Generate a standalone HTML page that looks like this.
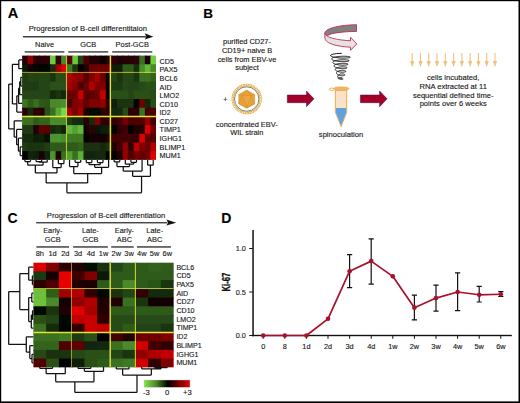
<!DOCTYPE html>
<html><head><meta charset="utf-8"><style>
html,body{margin:0;padding:0;background:#fff;width:520px;height:403px;overflow:hidden;}
svg text{font-family:"Liberation Sans", sans-serif;stroke:#151515;stroke-width:0.12px;}
svg text.nb{stroke:none;}
</style></head><body>
<svg width="520" height="403" viewBox="0 0 520 403" style="position:absolute;left:0;top:0">
<rect x="0" y="0" width="520" height="403" fill="#fff"/>
<rect x="22.1" y="55.6" width="6.58" height="9.69" fill="#2a0008"/>
<rect x="27.68" y="55.6" width="6.58" height="9.69" fill="#8a0000"/>
<rect x="33.26" y="55.6" width="6.58" height="9.69" fill="#2a0005"/>
<rect x="38.84" y="55.6" width="6.58" height="9.69" fill="#2a0005"/>
<rect x="44.42" y="55.6" width="6.58" height="9.69" fill="#300008"/>
<rect x="50" y="55.6" width="6.58" height="9.69" fill="#6ccc3c"/>
<rect x="55.58" y="55.6" width="6.58" height="9.69" fill="#300008"/>
<rect x="61.16" y="55.6" width="6.58" height="9.69" fill="#4a8a2a"/>
<rect x="66.74" y="55.6" width="6.58" height="9.69" fill="#5a0000"/>
<rect x="72.32" y="55.6" width="6.58" height="9.69" fill="#6cc83c"/>
<rect x="77.9" y="55.6" width="6.58" height="9.69" fill="#1e4014"/>
<rect x="83.48" y="55.6" width="6.58" height="9.69" fill="#4a0000"/>
<rect x="89.06" y="55.6" width="6.58" height="9.69" fill="#200005"/>
<rect x="94.64" y="55.6" width="6.58" height="9.69" fill="#200005"/>
<rect x="100.22" y="55.6" width="6.58" height="9.69" fill="#0a0000"/>
<rect x="105.8" y="55.6" width="6.58" height="9.69" fill="#2a0005"/>
<rect x="111.38" y="55.6" width="6.58" height="9.69" fill="#300008"/>
<rect x="116.96" y="55.6" width="6.58" height="9.69" fill="#200005"/>
<rect x="122.54" y="55.6" width="6.58" height="9.69" fill="#250005"/>
<rect x="128.12" y="55.6" width="6.58" height="9.69" fill="#250005"/>
<rect x="133.7" y="55.6" width="6.58" height="9.69" fill="#300008"/>
<rect x="139.28" y="55.6" width="6.58" height="9.69" fill="#3a7020"/>
<rect x="144.86" y="55.6" width="6.58" height="9.69" fill="#200005"/>
<rect x="150.44" y="55.6" width="5.58" height="9.69" fill="#70d040"/>
<rect x="22.1" y="64.29" width="6.58" height="9.69" fill="#0a1a08"/>
<rect x="27.68" y="64.29" width="6.58" height="9.69" fill="#150008"/>
<rect x="33.26" y="64.29" width="6.58" height="9.69" fill="#000800"/>
<rect x="38.84" y="64.29" width="6.58" height="9.69" fill="#000500"/>
<rect x="44.42" y="64.29" width="6.58" height="9.69" fill="#000500"/>
<rect x="50" y="64.29" width="6.58" height="9.69" fill="#142810"/>
<rect x="55.58" y="64.29" width="6.58" height="9.69" fill="#9a0000"/>
<rect x="61.16" y="64.29" width="6.58" height="9.69" fill="#d80000"/>
<rect x="66.74" y="64.29" width="6.58" height="9.69" fill="#3e7a22"/>
<rect x="72.32" y="64.29" width="6.58" height="9.69" fill="#1a3410"/>
<rect x="77.9" y="64.29" width="6.58" height="9.69" fill="#0a0000"/>
<rect x="83.48" y="64.29" width="6.58" height="9.69" fill="#250005"/>
<rect x="89.06" y="64.29" width="6.58" height="9.69" fill="#700000"/>
<rect x="94.64" y="64.29" width="6.58" height="9.69" fill="#700000"/>
<rect x="100.22" y="64.29" width="6.58" height="9.69" fill="#700000"/>
<rect x="105.8" y="64.29" width="6.58" height="9.69" fill="#700000"/>
<rect x="111.38" y="64.29" width="6.58" height="9.69" fill="#0e1e08"/>
<rect x="116.96" y="64.29" width="6.58" height="9.69" fill="#0e1e08"/>
<rect x="122.54" y="64.29" width="6.58" height="9.69" fill="#2e5a1a"/>
<rect x="128.12" y="64.29" width="6.58" height="9.69" fill="#2e5a1a"/>
<rect x="133.7" y="64.29" width="6.58" height="9.69" fill="#16300e"/>
<rect x="139.28" y="64.29" width="6.58" height="9.69" fill="#4a8a2a"/>
<rect x="144.86" y="64.29" width="6.58" height="9.69" fill="#62b83a"/>
<rect x="150.44" y="64.29" width="5.58" height="9.69" fill="#4a8a2a"/>
<rect x="22.1" y="72.98" width="6.58" height="9.69" fill="#1e3c12"/>
<rect x="27.68" y="72.98" width="6.58" height="9.69" fill="#244616"/>
<rect x="33.26" y="72.98" width="6.58" height="9.69" fill="#224214"/>
<rect x="38.84" y="72.98" width="6.58" height="9.69" fill="#244616"/>
<rect x="44.42" y="72.98" width="6.58" height="9.69" fill="#244616"/>
<rect x="50" y="72.98" width="6.58" height="9.69" fill="#1a3410"/>
<rect x="55.58" y="72.98" width="6.58" height="9.69" fill="#2a4e18"/>
<rect x="61.16" y="72.98" width="6.58" height="9.69" fill="#2a4e18"/>
<rect x="66.74" y="72.98" width="6.58" height="9.69" fill="#b00000"/>
<rect x="72.32" y="72.98" width="6.58" height="9.69" fill="#900000"/>
<rect x="77.9" y="72.98" width="6.58" height="9.69" fill="#900000"/>
<rect x="83.48" y="72.98" width="6.58" height="9.69" fill="#5a0000"/>
<rect x="89.06" y="72.98" width="6.58" height="9.69" fill="#800000"/>
<rect x="94.64" y="72.98" width="6.58" height="9.69" fill="#a80000"/>
<rect x="100.22" y="72.98" width="6.58" height="9.69" fill="#6a0000"/>
<rect x="105.8" y="72.98" width="6.58" height="9.69" fill="#0a0500"/>
<rect x="111.38" y="72.98" width="6.58" height="9.69" fill="#234416"/>
<rect x="116.96" y="72.98" width="6.58" height="9.69" fill="#1a340e"/>
<rect x="122.54" y="72.98" width="6.58" height="9.69" fill="#244616"/>
<rect x="128.12" y="72.98" width="6.58" height="9.69" fill="#244616"/>
<rect x="133.7" y="72.98" width="6.58" height="9.69" fill="#1a340e"/>
<rect x="139.28" y="72.98" width="6.58" height="9.69" fill="#3a7020"/>
<rect x="144.86" y="72.98" width="6.58" height="9.69" fill="#3a7020"/>
<rect x="150.44" y="72.98" width="5.58" height="9.69" fill="#34641c"/>
<rect x="22.1" y="81.67" width="6.58" height="9.69" fill="#1f3b13"/>
<rect x="27.68" y="81.67" width="6.58" height="9.69" fill="#1f3b13"/>
<rect x="33.26" y="81.67" width="6.58" height="9.69" fill="#1f3b13"/>
<rect x="38.84" y="81.67" width="6.58" height="9.69" fill="#244515"/>
<rect x="44.42" y="81.67" width="6.58" height="9.69" fill="#244515"/>
<rect x="50" y="81.67" width="6.58" height="9.69" fill="#2b5019"/>
<rect x="55.58" y="81.67" width="6.58" height="9.69" fill="#2b5019"/>
<rect x="61.16" y="81.67" width="6.58" height="9.69" fill="#2b5019"/>
<rect x="66.74" y="81.67" width="6.58" height="9.69" fill="#a00000"/>
<rect x="72.32" y="81.67" width="6.58" height="9.69" fill="#8a0000"/>
<rect x="77.9" y="81.67" width="6.58" height="9.69" fill="#4a0000"/>
<rect x="83.48" y="81.67" width="6.58" height="9.69" fill="#6a0000"/>
<rect x="89.06" y="81.67" width="6.58" height="9.69" fill="#b00000"/>
<rect x="94.64" y="81.67" width="6.58" height="9.69" fill="#800000"/>
<rect x="100.22" y="81.67" width="6.58" height="9.69" fill="#800000"/>
<rect x="105.8" y="81.67" width="6.58" height="9.69" fill="#080000"/>
<rect x="111.38" y="81.67" width="6.58" height="9.69" fill="#1e3a12"/>
<rect x="116.96" y="81.67" width="6.58" height="9.69" fill="#1e3a12"/>
<rect x="122.54" y="81.67" width="6.58" height="9.69" fill="#254816"/>
<rect x="128.12" y="81.67" width="6.58" height="9.69" fill="#234416"/>
<rect x="133.7" y="81.67" width="6.58" height="9.69" fill="#234416"/>
<rect x="139.28" y="81.67" width="6.58" height="9.69" fill="#264a18"/>
<rect x="144.86" y="81.67" width="6.58" height="9.69" fill="#2a5018"/>
<rect x="150.44" y="81.67" width="5.58" height="9.69" fill="#2a5018"/>
<rect x="22.1" y="90.36" width="6.58" height="9.69" fill="#244616"/>
<rect x="27.68" y="90.36" width="6.58" height="9.69" fill="#244616"/>
<rect x="33.26" y="90.36" width="6.58" height="9.69" fill="#244616"/>
<rect x="38.84" y="90.36" width="6.58" height="9.69" fill="#244616"/>
<rect x="44.42" y="90.36" width="6.58" height="9.69" fill="#244616"/>
<rect x="50" y="90.36" width="6.58" height="9.69" fill="#142a0c"/>
<rect x="55.58" y="90.36" width="6.58" height="9.69" fill="#1a320e"/>
<rect x="61.16" y="90.36" width="6.58" height="9.69" fill="#14280a"/>
<rect x="66.74" y="90.36" width="6.58" height="9.69" fill="#6a0000"/>
<rect x="72.32" y="90.36" width="6.58" height="9.69" fill="#6a0000"/>
<rect x="77.9" y="90.36" width="6.58" height="9.69" fill="#c80000"/>
<rect x="83.48" y="90.36" width="6.58" height="9.69" fill="#5a0000"/>
<rect x="89.06" y="90.36" width="6.58" height="9.69" fill="#5a0000"/>
<rect x="94.64" y="90.36" width="6.58" height="9.69" fill="#700000"/>
<rect x="100.22" y="90.36" width="6.58" height="9.69" fill="#c80000"/>
<rect x="105.8" y="90.36" width="6.58" height="9.69" fill="#000000"/>
<rect x="111.38" y="90.36" width="6.58" height="9.69" fill="#2a5018"/>
<rect x="116.96" y="90.36" width="6.58" height="9.69" fill="#2a5018"/>
<rect x="122.54" y="90.36" width="6.58" height="9.69" fill="#2a5018"/>
<rect x="128.12" y="90.36" width="6.58" height="9.69" fill="#244616"/>
<rect x="133.7" y="90.36" width="6.58" height="9.69" fill="#2a5018"/>
<rect x="139.28" y="90.36" width="6.58" height="9.69" fill="#2a5018"/>
<rect x="144.86" y="90.36" width="6.58" height="9.69" fill="#2a5018"/>
<rect x="150.44" y="90.36" width="5.58" height="9.69" fill="#264a18"/>
<rect x="22.1" y="99.05" width="6.58" height="9.69" fill="#3c7222"/>
<rect x="27.68" y="99.05" width="6.58" height="9.69" fill="#2e5a1a"/>
<rect x="33.26" y="99.05" width="6.58" height="9.69" fill="#386c20"/>
<rect x="38.84" y="99.05" width="6.58" height="9.69" fill="#2e5818"/>
<rect x="44.42" y="99.05" width="6.58" height="9.69" fill="#2c5418"/>
<rect x="50" y="99.05" width="6.58" height="9.69" fill="#4a8a28"/>
<rect x="55.58" y="99.05" width="6.58" height="9.69" fill="#4a8a28"/>
<rect x="61.16" y="99.05" width="6.58" height="9.69" fill="#4e9030"/>
<rect x="66.74" y="99.05" width="6.58" height="9.69" fill="#4a0000"/>
<rect x="72.32" y="99.05" width="6.58" height="9.69" fill="#800000"/>
<rect x="77.9" y="99.05" width="6.58" height="9.69" fill="#900000"/>
<rect x="83.48" y="99.05" width="6.58" height="9.69" fill="#600000"/>
<rect x="89.06" y="99.05" width="6.58" height="9.69" fill="#800000"/>
<rect x="94.64" y="99.05" width="6.58" height="9.69" fill="#800000"/>
<rect x="100.22" y="99.05" width="6.58" height="9.69" fill="#900000"/>
<rect x="105.8" y="99.05" width="6.58" height="9.69" fill="#300000"/>
<rect x="111.38" y="99.05" width="6.58" height="9.69" fill="#0e1e08"/>
<rect x="116.96" y="99.05" width="6.58" height="9.69" fill="#1a340e"/>
<rect x="122.54" y="99.05" width="6.58" height="9.69" fill="#1a340e"/>
<rect x="128.12" y="99.05" width="6.58" height="9.69" fill="#1a340e"/>
<rect x="133.7" y="99.05" width="6.58" height="9.69" fill="#000000"/>
<rect x="139.28" y="99.05" width="6.58" height="9.69" fill="#700000"/>
<rect x="144.86" y="99.05" width="6.58" height="9.69" fill="#10280a"/>
<rect x="150.44" y="99.05" width="5.58" height="9.69" fill="#2a5018"/>
<rect x="22.1" y="107.74" width="6.58" height="9.69" fill="#2a0008"/>
<rect x="27.68" y="107.74" width="6.58" height="9.69" fill="#142a0c"/>
<rect x="33.26" y="107.74" width="6.58" height="9.69" fill="#300008"/>
<rect x="38.84" y="107.74" width="6.58" height="9.69" fill="#200005"/>
<rect x="44.42" y="107.74" width="6.58" height="9.69" fill="#2a5018"/>
<rect x="50" y="107.74" width="6.58" height="9.69" fill="#3a7020"/>
<rect x="55.58" y="107.74" width="6.58" height="9.69" fill="#5aaa38"/>
<rect x="61.16" y="107.74" width="6.58" height="9.69" fill="#78d848"/>
<rect x="66.74" y="107.74" width="6.58" height="9.69" fill="#a00000"/>
<rect x="72.32" y="107.74" width="6.58" height="9.69" fill="#800000"/>
<rect x="77.9" y="107.74" width="6.58" height="9.69" fill="#a00000"/>
<rect x="83.48" y="107.74" width="6.58" height="9.69" fill="#1a0000"/>
<rect x="89.06" y="107.74" width="6.58" height="9.69" fill="#000800"/>
<rect x="94.64" y="107.74" width="6.58" height="9.69" fill="#000800"/>
<rect x="100.22" y="107.74" width="6.58" height="9.69" fill="#300000"/>
<rect x="105.8" y="107.74" width="6.58" height="9.69" fill="#200000"/>
<rect x="111.38" y="107.74" width="6.58" height="9.69" fill="#122810"/>
<rect x="116.96" y="107.74" width="6.58" height="9.69" fill="#122810"/>
<rect x="122.54" y="107.74" width="6.58" height="9.69" fill="#264a18"/>
<rect x="128.12" y="107.74" width="6.58" height="9.69" fill="#2a0005"/>
<rect x="133.7" y="107.74" width="6.58" height="9.69" fill="#2a0005"/>
<rect x="139.28" y="107.74" width="6.58" height="9.69" fill="#3a7020"/>
<rect x="144.86" y="107.74" width="6.58" height="9.69" fill="#400005"/>
<rect x="150.44" y="107.74" width="5.58" height="9.69" fill="#500000"/>
<rect x="22.1" y="116.43" width="6.58" height="9.69" fill="#3a7020"/>
<rect x="27.68" y="116.43" width="6.58" height="9.69" fill="#3a7020"/>
<rect x="33.26" y="116.43" width="6.58" height="9.69" fill="#2e5a1a"/>
<rect x="38.84" y="116.43" width="6.58" height="9.69" fill="#34641c"/>
<rect x="44.42" y="116.43" width="6.58" height="9.69" fill="#34641c"/>
<rect x="50" y="116.43" width="6.58" height="9.69" fill="#4a8a2a"/>
<rect x="55.58" y="116.43" width="6.58" height="9.69" fill="#4a8a2a"/>
<rect x="61.16" y="116.43" width="6.58" height="9.69" fill="#4a8a2a"/>
<rect x="66.74" y="116.43" width="6.58" height="9.69" fill="#1e3a12"/>
<rect x="72.32" y="116.43" width="6.58" height="9.69" fill="#142a0c"/>
<rect x="77.9" y="116.43" width="6.58" height="9.69" fill="#142a0c"/>
<rect x="83.48" y="116.43" width="6.58" height="9.69" fill="#2a0005"/>
<rect x="89.06" y="116.43" width="6.58" height="9.69" fill="#142a0c"/>
<rect x="94.64" y="116.43" width="6.58" height="9.69" fill="#800000"/>
<rect x="100.22" y="116.43" width="6.58" height="9.69" fill="#300005"/>
<rect x="105.8" y="116.43" width="6.58" height="9.69" fill="#300005"/>
<rect x="111.38" y="116.43" width="6.58" height="9.69" fill="#300005"/>
<rect x="116.96" y="116.43" width="6.58" height="9.69" fill="#400005"/>
<rect x="122.54" y="116.43" width="6.58" height="9.69" fill="#700000"/>
<rect x="128.12" y="116.43" width="6.58" height="9.69" fill="#4a0000"/>
<rect x="133.7" y="116.43" width="6.58" height="9.69" fill="#500000"/>
<rect x="139.28" y="116.43" width="6.58" height="9.69" fill="#500000"/>
<rect x="144.86" y="116.43" width="6.58" height="9.69" fill="#900000"/>
<rect x="150.44" y="116.43" width="5.58" height="9.69" fill="#400005"/>
<rect x="22.1" y="125.12" width="6.58" height="9.69" fill="#1e3a12"/>
<rect x="27.68" y="125.12" width="6.58" height="9.69" fill="#1e3a12"/>
<rect x="33.26" y="125.12" width="6.58" height="9.69" fill="#200005"/>
<rect x="38.84" y="125.12" width="6.58" height="9.69" fill="#600000"/>
<rect x="44.42" y="125.12" width="6.58" height="9.69" fill="#5a0000"/>
<rect x="50" y="125.12" width="6.58" height="9.69" fill="#14280c"/>
<rect x="55.58" y="125.12" width="6.58" height="9.69" fill="#18300e"/>
<rect x="61.16" y="125.12" width="6.58" height="9.69" fill="#10200a"/>
<rect x="66.74" y="125.12" width="6.58" height="9.69" fill="#62b83a"/>
<rect x="72.32" y="125.12" width="6.58" height="9.69" fill="#52a030"/>
<rect x="77.9" y="125.12" width="6.58" height="9.69" fill="#62b83a"/>
<rect x="83.48" y="125.12" width="6.58" height="9.69" fill="#100000"/>
<rect x="89.06" y="125.12" width="6.58" height="9.69" fill="#300005"/>
<rect x="94.64" y="125.12" width="6.58" height="9.69" fill="#081408"/>
<rect x="100.22" y="125.12" width="6.58" height="9.69" fill="#0e1e08"/>
<rect x="105.8" y="125.12" width="6.58" height="9.69" fill="#10200a"/>
<rect x="111.38" y="125.12" width="6.58" height="9.69" fill="#000500"/>
<rect x="116.96" y="125.12" width="6.58" height="9.69" fill="#300005"/>
<rect x="122.54" y="125.12" width="6.58" height="9.69" fill="#400005"/>
<rect x="128.12" y="125.12" width="6.58" height="9.69" fill="#000000"/>
<rect x="133.7" y="125.12" width="6.58" height="9.69" fill="#200000"/>
<rect x="139.28" y="125.12" width="6.58" height="9.69" fill="#200000"/>
<rect x="144.86" y="125.12" width="6.58" height="9.69" fill="#e00000"/>
<rect x="150.44" y="125.12" width="5.58" height="9.69" fill="#700000"/>
<rect x="22.1" y="133.81" width="6.58" height="9.69" fill="#142a0c"/>
<rect x="27.68" y="133.81" width="6.58" height="9.69" fill="#142a0c"/>
<rect x="33.26" y="133.81" width="6.58" height="9.69" fill="#0c1e08"/>
<rect x="38.84" y="133.81" width="6.58" height="9.69" fill="#0e2008"/>
<rect x="44.42" y="133.81" width="6.58" height="9.69" fill="#061004"/>
<rect x="50" y="133.81" width="6.58" height="9.69" fill="#4e9230"/>
<rect x="55.58" y="133.81" width="6.58" height="9.69" fill="#4e9230"/>
<rect x="61.16" y="133.81" width="6.58" height="9.69" fill="#4a8a2a"/>
<rect x="66.74" y="133.81" width="6.58" height="9.69" fill="#3e7a22"/>
<rect x="72.32" y="133.81" width="6.58" height="9.69" fill="#3e7a22"/>
<rect x="77.9" y="133.81" width="6.58" height="9.69" fill="#3e7a22"/>
<rect x="83.48" y="133.81" width="6.58" height="9.69" fill="#050000"/>
<rect x="89.06" y="133.81" width="6.58" height="9.69" fill="#150005"/>
<rect x="94.64" y="133.81" width="6.58" height="9.69" fill="#150005"/>
<rect x="100.22" y="133.81" width="6.58" height="9.69" fill="#100000"/>
<rect x="105.8" y="133.81" width="6.58" height="9.69" fill="#250005"/>
<rect x="111.38" y="133.81" width="6.58" height="9.69" fill="#400005"/>
<rect x="116.96" y="133.81" width="6.58" height="9.69" fill="#400005"/>
<rect x="122.54" y="133.81" width="6.58" height="9.69" fill="#400005"/>
<rect x="128.12" y="133.81" width="6.58" height="9.69" fill="#400005"/>
<rect x="133.7" y="133.81" width="6.58" height="9.69" fill="#300005"/>
<rect x="139.28" y="133.81" width="6.58" height="9.69" fill="#e00000"/>
<rect x="144.86" y="133.81" width="6.58" height="9.69" fill="#600000"/>
<rect x="150.44" y="133.81" width="5.58" height="9.69" fill="#500000"/>
<rect x="22.1" y="142.5" width="6.58" height="9.69" fill="#1e3a12"/>
<rect x="27.68" y="142.5" width="6.58" height="9.69" fill="#1a340e"/>
<rect x="33.26" y="142.5" width="6.58" height="9.69" fill="#1a340e"/>
<rect x="38.84" y="142.5" width="6.58" height="9.69" fill="#1a340e"/>
<rect x="44.42" y="142.5" width="6.58" height="9.69" fill="#203e12"/>
<rect x="50" y="142.5" width="6.58" height="9.69" fill="#2e5a1a"/>
<rect x="55.58" y="142.5" width="6.58" height="9.69" fill="#2e5a1a"/>
<rect x="61.16" y="142.5" width="6.58" height="9.69" fill="#2e5a1a"/>
<rect x="66.74" y="142.5" width="6.58" height="9.69" fill="#2e5a1a"/>
<rect x="72.32" y="142.5" width="6.58" height="9.69" fill="#2e5a1a"/>
<rect x="77.9" y="142.5" width="6.58" height="9.69" fill="#34641c"/>
<rect x="83.48" y="142.5" width="6.58" height="9.69" fill="#1a300e"/>
<rect x="89.06" y="142.5" width="6.58" height="9.69" fill="#1a300e"/>
<rect x="94.64" y="142.5" width="6.58" height="9.69" fill="#1a320e"/>
<rect x="100.22" y="142.5" width="6.58" height="9.69" fill="#14280c"/>
<rect x="105.8" y="142.5" width="6.58" height="9.69" fill="#1a320e"/>
<rect x="111.38" y="142.5" width="6.58" height="9.69" fill="#200000"/>
<rect x="116.96" y="142.5" width="6.58" height="9.69" fill="#400005"/>
<rect x="122.54" y="142.5" width="6.58" height="9.69" fill="#900000"/>
<rect x="128.12" y="142.5" width="6.58" height="9.69" fill="#300005"/>
<rect x="133.7" y="142.5" width="6.58" height="9.69" fill="#c00000"/>
<rect x="139.28" y="142.5" width="6.58" height="9.69" fill="#800000"/>
<rect x="144.86" y="142.5" width="6.58" height="9.69" fill="#700000"/>
<rect x="150.44" y="142.5" width="5.58" height="9.69" fill="#b00000"/>
<rect x="22.1" y="151.19" width="6.58" height="8.69" fill="#000000"/>
<rect x="27.68" y="151.19" width="6.58" height="8.69" fill="#122410"/>
<rect x="33.26" y="151.19" width="6.58" height="8.69" fill="#0e200a"/>
<rect x="38.84" y="151.19" width="6.58" height="8.69" fill="#180005"/>
<rect x="44.42" y="151.19" width="6.58" height="8.69" fill="#122410"/>
<rect x="50" y="151.19" width="6.58" height="8.69" fill="#4e9230"/>
<rect x="55.58" y="151.19" width="6.58" height="8.69" fill="#200005"/>
<rect x="61.16" y="151.19" width="6.58" height="8.69" fill="#3a7020"/>
<rect x="66.74" y="151.19" width="6.58" height="8.69" fill="#52a030"/>
<rect x="72.32" y="151.19" width="6.58" height="8.69" fill="#3a7020"/>
<rect x="77.9" y="151.19" width="6.58" height="8.69" fill="#5ab038"/>
<rect x="83.48" y="151.19" width="6.58" height="8.69" fill="#122410"/>
<rect x="89.06" y="151.19" width="6.58" height="8.69" fill="#122410"/>
<rect x="94.64" y="151.19" width="6.58" height="8.69" fill="#142810"/>
<rect x="100.22" y="151.19" width="6.58" height="8.69" fill="#142810"/>
<rect x="105.8" y="151.19" width="6.58" height="8.69" fill="#000000"/>
<rect x="111.38" y="151.19" width="6.58" height="8.69" fill="#000000"/>
<rect x="116.96" y="151.19" width="6.58" height="8.69" fill="#200000"/>
<rect x="122.54" y="151.19" width="6.58" height="8.69" fill="#900000"/>
<rect x="128.12" y="151.19" width="6.58" height="8.69" fill="#500000"/>
<rect x="133.7" y="151.19" width="6.58" height="8.69" fill="#700000"/>
<rect x="139.28" y="151.19" width="6.58" height="8.69" fill="#600000"/>
<rect x="144.86" y="151.19" width="6.58" height="8.69" fill="#700000"/>
<rect x="150.44" y="151.19" width="5.58" height="8.69" fill="#e00000"/>
<rect x="65.95" y="55.6" width="1.1" height="104.28" fill="#e4e43a" opacity="0.75"/>
<rect x="109.65" y="55.6" width="1.5" height="104.28" fill="#e4e43a" opacity="1"/>
<rect x="22.1" y="71.9" width="133.92" height="1" fill="#e4e43a" opacity="0.7"/>
<rect x="22.1" y="115.75" width="133.92" height="1.5" fill="#e4e43a" opacity="1"/>
<text x="159.6" y="63.8" font-size="7.2" fill="#151515">CD5</text>
<text x="159.6" y="72.38" font-size="7.2" fill="#151515">PAX5</text>
<text x="159.6" y="80.97" font-size="7.2" fill="#151515">BCL6</text>
<text x="159.6" y="89.56" font-size="7.2" fill="#151515">AID</text>
<text x="159.6" y="98.14" font-size="7.2" fill="#151515">LMO2</text>
<text x="159.6" y="106.72" font-size="7.2" fill="#151515">CD10</text>
<text x="159.6" y="115.31" font-size="7.2" fill="#151515">ID2</text>
<text x="159.6" y="123.9" font-size="7.2" fill="#151515">CD27</text>
<text x="159.6" y="132.48" font-size="7.2" fill="#151515">TIMP1</text>
<text x="159.6" y="141.06" font-size="7.2" fill="#151515">IGHG1</text>
<text x="159.6" y="149.65" font-size="7.2" fill="#151515">BLIMP1</text>
<text x="159.6" y="158.24" font-size="7.2" fill="#151515">MUM1</text>
<path d="M22.1 59.95L18.8 59.95M22.1 68.64L18.8 68.64M18.8 59.95L18.8 68.64M22.1 77.33L20.8 77.33M22.1 86.02L20.8 86.02M20.8 77.33L20.8 86.02M20.8 81.67L19.7 81.67M22.1 94.7L19.7 94.7M19.7 81.67L19.7 94.7M19.7 88.19L18.6 88.19M22.1 103.39L18.6 103.39M18.6 88.19L18.6 103.39M18.6 95.79L16.8 95.79M22.1 112.09L16.8 112.09M16.8 95.79L16.8 112.09M18.8 64.29L12.4 64.29M16.8 103.94L12.4 103.94M12.4 64.29L12.4 103.94M22.1 146.84L20.2 146.84M22.1 155.53L20.2 155.53M20.2 146.84L20.2 155.53M22.1 138.16L18.4 138.16M20.2 151.19L18.4 151.19M18.4 138.16L18.4 151.19M22.1 129.47L16.6 129.47M18.4 144.67L16.6 144.67M16.6 129.47L16.6 144.67M22.1 120.78L14.2 120.78M16.6 137.07L14.2 137.07M14.2 120.78L14.2 137.07M12.4 84.11L8.7 84.11M14.2 128.92L8.7 128.92M8.7 84.11L8.7 128.92" fill="none" stroke="#111" stroke-width="1.25"/>
<path d="M24.89 160L24.89 161.6M30.47 160L30.47 161.6M24.89 161.6L30.47 161.6M36.05 160L36.05 161.6M41.63 160L41.63 161.6M36.05 161.6L41.63 161.6M38.84 161.6L38.84 162.2M47.21 160L47.21 162.2M38.84 162.2L47.21 162.2M27.68 161.6L27.68 165.2M43.03 162.2L43.03 165.2M27.68 165.2L43.03 165.2M58.37 160L58.37 163.7M63.95 160L63.95 163.7M58.37 163.7L63.95 163.7M52.79 160L52.79 167.6M61.16 163.7L61.16 167.6M52.79 167.6L61.16 167.6M35.35 165.2L35.35 172.9M56.98 167.6L56.98 172.9M35.35 172.9L56.98 172.9M75.11 160L75.11 162.3M80.69 160L80.69 162.3M75.11 162.3L80.69 162.3M69.53 160L69.53 166.6M77.9 162.3L77.9 166.6M69.53 166.6L77.9 166.6M86.27 160L86.27 162.5M91.85 160L91.85 162.5M86.27 162.5L91.85 162.5M97.43 160L97.43 162.5M103.01 160L103.01 162.5M97.43 162.5L103.01 162.5M89.06 162.5L89.06 164.7M100.22 162.5L100.22 164.7M89.06 164.7L100.22 164.7M94.64 164.7L94.64 167.3M108.59 160L108.59 167.3M94.64 167.3L108.59 167.3M73.72 166.6L73.72 173.6M101.62 167.3L101.62 173.6M73.72 173.6L101.62 173.6M114.17 160L114.17 161.8M119.75 160L119.75 161.8M114.17 161.8L119.75 161.8M130.91 160L130.91 162.3M136.49 160L136.49 162.3M130.91 162.3L136.49 162.3M125.33 160L125.33 164.2M133.7 162.3L133.7 164.2M125.33 164.2L133.7 164.2M116.96 161.8L116.96 166.6M129.51 164.2L129.51 166.6M116.96 166.6L129.51 166.6M123.24 166.6L123.24 171M142.07 160L142.07 171M123.24 171L142.07 171M147.65 160L147.65 165.2M153.23 160L153.23 165.2M147.65 165.2L153.23 165.2M132.65 171L132.65 176.3M150.44 165.2L150.44 176.3M132.65 176.3L150.44 176.3M46.16 172.9L46.16 182.9M87.67 173.6L87.67 182.9M46.16 182.9L87.67 182.9M66.91 182.9L66.91 192.8M141.55 176.3L141.55 192.8M66.91 192.8L141.55 192.8" fill="none" stroke="#111" stroke-width="1.25"/>
<text x="28.7" y="31.4" font-size="7.65" fill="#151515">Progression of B-cell differentitaion</text>
<rect x="23" y="36.2" width="123" height="1.2" fill="#111"/>
<path d="M144.8 33.2L153.3 36.8L144.8 39.6L146.3 36.8Z" fill="#111"/>
<rect x="24.7" y="51.1" width="39.7" height="1.6" fill="#555"/>
<text x="44.55" y="46.5" font-size="7.4" fill="#151515" text-anchor="middle">Naive</text>
<rect x="68.2" y="51.1" width="40" height="1.6" fill="#555"/>
<text x="88.2" y="46.5" font-size="7.4" fill="#151515" text-anchor="middle">GCB</text>
<rect x="112.2" y="51.1" width="40.1" height="1.6" fill="#555"/>
<text x="132.25" y="46.5" font-size="7.4" fill="#151515" text-anchor="middle">Post-GCB</text>
<text x="7.8" y="17.9" font-size="14.6" font-weight="bold" fill="#000">A</text>
<rect x="33.4" y="262.7" width="13.75" height="9.72" fill="#d80000"/>
<rect x="46.15" y="262.7" width="13.75" height="9.72" fill="#800000"/>
<rect x="58.9" y="262.7" width="13.75" height="9.72" fill="#2a0000"/>
<rect x="71.65" y="262.7" width="13.75" height="9.72" fill="#200000"/>
<rect x="84.4" y="262.7" width="13.75" height="9.72" fill="#001000"/>
<rect x="97.15" y="262.7" width="13.75" height="9.72" fill="#1a3010"/>
<rect x="109.9" y="262.7" width="13.75" height="9.72" fill="#23461a"/>
<rect x="122.65" y="262.7" width="13.75" height="9.72" fill="#2e5a1a"/>
<rect x="135.4" y="262.7" width="13.75" height="9.72" fill="#2e5a1a"/>
<rect x="148.15" y="262.7" width="13.75" height="9.72" fill="#34621c"/>
<rect x="160.9" y="262.7" width="12.75" height="9.72" fill="#305e1a"/>
<rect x="33.4" y="271.42" width="13.75" height="9.72" fill="#1a3a10"/>
<rect x="46.15" y="271.42" width="13.75" height="9.72" fill="#150000"/>
<rect x="58.9" y="271.42" width="13.75" height="9.72" fill="#e80000"/>
<rect x="71.65" y="271.42" width="13.75" height="9.72" fill="#400000"/>
<rect x="84.4" y="271.42" width="13.75" height="9.72" fill="#800000"/>
<rect x="97.15" y="271.42" width="13.75" height="9.72" fill="#0a1808"/>
<rect x="109.9" y="271.42" width="13.75" height="9.72" fill="#2e5a1a"/>
<rect x="122.65" y="271.42" width="13.75" height="9.72" fill="#2e5a1a"/>
<rect x="135.4" y="271.42" width="13.75" height="9.72" fill="#2e5a1a"/>
<rect x="148.15" y="271.42" width="13.75" height="9.72" fill="#2e5a1a"/>
<rect x="160.9" y="271.42" width="12.75" height="9.72" fill="#2e5a1a"/>
<rect x="33.4" y="280.14" width="13.75" height="9.72" fill="#2a0000"/>
<rect x="46.15" y="280.14" width="13.75" height="9.72" fill="#500000"/>
<rect x="58.9" y="280.14" width="13.75" height="9.72" fill="#e80000"/>
<rect x="71.65" y="280.14" width="13.75" height="9.72" fill="#200000"/>
<rect x="84.4" y="280.14" width="13.75" height="9.72" fill="#1a0000"/>
<rect x="97.15" y="280.14" width="13.75" height="9.72" fill="#2e5a1a"/>
<rect x="109.9" y="280.14" width="13.75" height="9.72" fill="#2e5a1a"/>
<rect x="122.65" y="280.14" width="13.75" height="9.72" fill="#4a8a2a"/>
<rect x="135.4" y="280.14" width="13.75" height="9.72" fill="#2e5a1a"/>
<rect x="148.15" y="280.14" width="13.75" height="9.72" fill="#2a5418"/>
<rect x="160.9" y="280.14" width="12.75" height="9.72" fill="#1a340e"/>
<rect x="33.4" y="288.86" width="13.75" height="9.72" fill="#6cc03a"/>
<rect x="46.15" y="288.86" width="13.75" height="9.72" fill="#2e5e1a"/>
<rect x="58.9" y="288.86" width="13.75" height="9.72" fill="#a00000"/>
<rect x="71.65" y="288.86" width="13.75" height="9.72" fill="#b00000"/>
<rect x="84.4" y="288.86" width="13.75" height="9.72" fill="#300000"/>
<rect x="97.15" y="288.86" width="13.75" height="9.72" fill="#000800"/>
<rect x="109.9" y="288.86" width="13.75" height="9.72" fill="#1a340e"/>
<rect x="122.65" y="288.86" width="13.75" height="9.72" fill="#244616"/>
<rect x="135.4" y="288.86" width="13.75" height="9.72" fill="#300000"/>
<rect x="148.15" y="288.86" width="13.75" height="9.72" fill="#142a0c"/>
<rect x="160.9" y="288.86" width="12.75" height="9.72" fill="#142a0c"/>
<rect x="33.4" y="297.58" width="13.75" height="9.72" fill="#6cc03a"/>
<rect x="46.15" y="297.58" width="13.75" height="9.72" fill="#4a8a2a"/>
<rect x="58.9" y="297.58" width="13.75" height="9.72" fill="#150000"/>
<rect x="71.65" y="297.58" width="13.75" height="9.72" fill="#900000"/>
<rect x="84.4" y="297.58" width="13.75" height="9.72" fill="#b00000"/>
<rect x="97.15" y="297.58" width="13.75" height="9.72" fill="#200000"/>
<rect x="109.9" y="297.58" width="13.75" height="9.72" fill="#200000"/>
<rect x="122.65" y="297.58" width="13.75" height="9.72" fill="#3a7020"/>
<rect x="135.4" y="297.58" width="13.75" height="9.72" fill="#1a340e"/>
<rect x="148.15" y="297.58" width="13.75" height="9.72" fill="#100000"/>
<rect x="160.9" y="297.58" width="12.75" height="9.72" fill="#150000"/>
<rect x="33.4" y="306.3" width="13.75" height="9.72" fill="#000800"/>
<rect x="46.15" y="306.3" width="13.75" height="9.72" fill="#1a340e"/>
<rect x="58.9" y="306.3" width="13.75" height="9.72" fill="#200000"/>
<rect x="71.65" y="306.3" width="13.75" height="9.72" fill="#e00000"/>
<rect x="84.4" y="306.3" width="13.75" height="9.72" fill="#a80000"/>
<rect x="97.15" y="306.3" width="13.75" height="9.72" fill="#250000"/>
<rect x="109.9" y="306.3" width="13.75" height="9.72" fill="#2e5a1a"/>
<rect x="122.65" y="306.3" width="13.75" height="9.72" fill="#2e5a1a"/>
<rect x="135.4" y="306.3" width="13.75" height="9.72" fill="#2e5a1a"/>
<rect x="148.15" y="306.3" width="13.75" height="9.72" fill="#2e5a1a"/>
<rect x="160.9" y="306.3" width="12.75" height="9.72" fill="#2e5a1a"/>
<rect x="33.4" y="315.02" width="13.75" height="9.72" fill="#2a5018"/>
<rect x="46.15" y="315.02" width="13.75" height="9.72" fill="#234416"/>
<rect x="58.9" y="315.02" width="13.75" height="9.72" fill="#000800"/>
<rect x="71.65" y="315.02" width="13.75" height="9.72" fill="#c00000"/>
<rect x="84.4" y="315.02" width="13.75" height="9.72" fill="#c80000"/>
<rect x="97.15" y="315.02" width="13.75" height="9.72" fill="#300000"/>
<rect x="109.9" y="315.02" width="13.75" height="9.72" fill="#264a18"/>
<rect x="122.65" y="315.02" width="13.75" height="9.72" fill="#264a18"/>
<rect x="135.4" y="315.02" width="13.75" height="9.72" fill="#264a18"/>
<rect x="148.15" y="315.02" width="13.75" height="9.72" fill="#264a18"/>
<rect x="160.9" y="315.02" width="12.75" height="9.72" fill="#264a18"/>
<rect x="33.4" y="323.74" width="13.75" height="9.72" fill="#3a7020"/>
<rect x="46.15" y="323.74" width="13.75" height="9.72" fill="#142a0c"/>
<rect x="58.9" y="323.74" width="13.75" height="9.72" fill="#000500"/>
<rect x="71.65" y="323.74" width="13.75" height="9.72" fill="#300000"/>
<rect x="84.4" y="323.74" width="13.75" height="9.72" fill="#c80000"/>
<rect x="97.15" y="323.74" width="13.75" height="9.72" fill="#c00000"/>
<rect x="109.9" y="323.74" width="13.75" height="9.72" fill="#264a18"/>
<rect x="122.65" y="323.74" width="13.75" height="9.72" fill="#2e5a1a"/>
<rect x="135.4" y="323.74" width="13.75" height="9.72" fill="#234416"/>
<rect x="148.15" y="323.74" width="13.75" height="9.72" fill="#234416"/>
<rect x="160.9" y="323.74" width="12.75" height="9.72" fill="#1a340e"/>
<rect x="33.4" y="332.46" width="13.75" height="9.72" fill="#3a7020"/>
<rect x="46.15" y="332.46" width="13.75" height="9.72" fill="#3a7020"/>
<rect x="58.9" y="332.46" width="13.75" height="9.72" fill="#3e7a22"/>
<rect x="71.65" y="332.46" width="13.75" height="9.72" fill="#1e3a12"/>
<rect x="84.4" y="332.46" width="13.75" height="9.72" fill="#2a5018"/>
<rect x="97.15" y="332.46" width="13.75" height="9.72" fill="#000000"/>
<rect x="109.9" y="332.46" width="13.75" height="9.72" fill="#400000"/>
<rect x="122.65" y="332.46" width="13.75" height="9.72" fill="#200000"/>
<rect x="135.4" y="332.46" width="13.75" height="9.72" fill="#700000"/>
<rect x="148.15" y="332.46" width="13.75" height="9.72" fill="#700000"/>
<rect x="160.9" y="332.46" width="12.75" height="9.72" fill="#800000"/>
<rect x="33.4" y="341.18" width="13.75" height="9.72" fill="#34641c"/>
<rect x="46.15" y="341.18" width="13.75" height="9.72" fill="#34641c"/>
<rect x="58.9" y="341.18" width="13.75" height="9.72" fill="#500000"/>
<rect x="71.65" y="341.18" width="13.75" height="9.72" fill="#600000"/>
<rect x="84.4" y="341.18" width="13.75" height="9.72" fill="#122410"/>
<rect x="97.15" y="341.18" width="13.75" height="9.72" fill="#142810"/>
<rect x="109.9" y="341.18" width="13.75" height="9.72" fill="#3a7020"/>
<rect x="122.65" y="341.18" width="13.75" height="9.72" fill="#4a8a2a"/>
<rect x="135.4" y="341.18" width="13.75" height="9.72" fill="#d00000"/>
<rect x="148.15" y="341.18" width="13.75" height="9.72" fill="#400000"/>
<rect x="160.9" y="341.18" width="12.75" height="9.72" fill="#300000"/>
<rect x="33.4" y="349.9" width="13.75" height="9.72" fill="#254816"/>
<rect x="46.15" y="349.9" width="13.75" height="9.72" fill="#1a300e"/>
<rect x="58.9" y="349.9" width="13.75" height="9.72" fill="#1a320e"/>
<rect x="71.65" y="349.9" width="13.75" height="9.72" fill="#254816"/>
<rect x="84.4" y="349.9" width="13.75" height="9.72" fill="#2a5018"/>
<rect x="97.15" y="349.9" width="13.75" height="9.72" fill="#2a5018"/>
<rect x="109.9" y="349.9" width="13.75" height="9.72" fill="#234416"/>
<rect x="122.65" y="349.9" width="13.75" height="9.72" fill="#1a340e"/>
<rect x="135.4" y="349.9" width="13.75" height="9.72" fill="#900000"/>
<rect x="148.15" y="349.9" width="13.75" height="9.72" fill="#b00000"/>
<rect x="160.9" y="349.9" width="12.75" height="9.72" fill="#c00000"/>
<rect x="33.4" y="358.62" width="13.75" height="8.72" fill="#500000"/>
<rect x="46.15" y="358.62" width="13.75" height="8.72" fill="#2a5018"/>
<rect x="58.9" y="358.62" width="13.75" height="8.72" fill="#000000"/>
<rect x="71.65" y="358.62" width="13.75" height="8.72" fill="#0e1e08"/>
<rect x="84.4" y="358.62" width="13.75" height="8.72" fill="#2a5018"/>
<rect x="97.15" y="358.62" width="13.75" height="8.72" fill="#2e5a1a"/>
<rect x="109.9" y="358.62" width="13.75" height="8.72" fill="#3a7020"/>
<rect x="122.65" y="358.62" width="13.75" height="8.72" fill="#3e7a22"/>
<rect x="135.4" y="358.62" width="13.75" height="8.72" fill="#d00000"/>
<rect x="148.15" y="358.62" width="13.75" height="8.72" fill="#300000"/>
<rect x="160.9" y="358.62" width="12.75" height="8.72" fill="#800000"/>
<rect x="71" y="262.7" width="1" height="104.64" fill="#e4e43a" opacity="0.6"/>
<rect x="109.5" y="262.7" width="1.4" height="104.64" fill="#e4e43a" opacity="1"/>
<rect x="134.85" y="262.7" width="1.1" height="104.64" fill="#e4e43a" opacity="0.85"/>
<rect x="33.4" y="288" width="140.25" height="1" fill="#e4e43a" opacity="0.75"/>
<rect x="33.4" y="331.75" width="140.25" height="1.5" fill="#e4e43a" opacity="1"/>
<text x="176.4" y="269.7" font-size="7.1" fill="#151515">BCL6</text>
<text x="176.4" y="278.38" font-size="7.1" fill="#151515">CD5</text>
<text x="176.4" y="287.06" font-size="7.1" fill="#151515">PAX5</text>
<text x="176.4" y="295.74" font-size="7.1" fill="#151515">AID</text>
<text x="176.4" y="304.42" font-size="7.1" fill="#151515">CD27</text>
<text x="176.4" y="313.1" font-size="7.1" fill="#151515">CD10</text>
<text x="176.4" y="321.78" font-size="7.1" fill="#151515">LMO2</text>
<text x="176.4" y="330.46" font-size="7.1" fill="#151515">TIMP1</text>
<text x="176.4" y="339.14" font-size="7.1" fill="#151515">ID2</text>
<text x="176.4" y="347.82" font-size="7.1" fill="#151515">BLIMP1</text>
<text x="176.4" y="356.5" font-size="7.1" fill="#151515">IGHG1</text>
<text x="176.4" y="365.18" font-size="7.1" fill="#151515">MUM1</text>
<path d="M33.4 275.78L32.4 275.78M33.4 284.5L32.4 284.5M32.4 275.78L32.4 284.5M33.4 267.06L28.7 267.06M32.4 280.14L28.7 280.14M28.7 267.06L28.7 280.14M33.4 293.22L31.8 293.22M33.4 301.94L31.8 301.94M31.8 293.22L31.8 301.94M33.4 310.66L32.5 310.66M33.4 319.38L32.5 319.38M32.5 310.66L32.5 319.38M32.5 315.02L31.3 315.02M33.4 328.1L31.3 328.1M31.3 315.02L31.3 328.1M31.8 297.58L28.7 297.58M31.3 321.56L28.7 321.56M28.7 297.58L28.7 321.56M28.7 273.6L19.8 273.6M28.7 309.57L19.8 309.57M19.8 273.6L19.8 309.57M33.4 354.26L32 354.26M33.4 362.98L32 362.98M32 354.26L32 362.98M33.4 345.54L29.8 345.54M32 358.62L29.8 358.62M29.8 345.54L29.8 358.62M33.4 336.82L26.3 336.82M29.8 352.08L26.3 352.08M26.3 336.82L26.3 352.08M19.8 291.59L8.7 291.59M26.3 344.45L8.7 344.45M8.7 291.59L8.7 344.45" fill="none" stroke="#111" stroke-width="1.25"/>
<path d="M39.77 366.9L39.77 368.4M52.52 366.9L52.52 368.4M39.77 368.4L52.52 368.4M46.15 368.4L46.15 373.7M65.28 366.9L65.28 373.7M46.15 373.7L65.28 373.7M78.03 366.9L78.03 368.4M90.78 366.9L90.78 368.4M78.03 368.4L90.78 368.4M84.4 368.4L84.4 371.3M103.53 366.9L103.53 371.3M84.4 371.3L103.53 371.3M55.71 373.7L55.71 381.8M93.96 371.3L93.96 381.8M55.71 381.8L93.96 381.8M116.28 366.9L116.28 368.9M129.03 366.9L129.03 368.9M116.28 368.9L129.03 368.9M154.53 366.9L154.53 367.6M167.28 366.9L167.28 367.6M154.53 367.6L167.28 367.6M141.78 366.9L141.78 368.9M160.9 367.6L160.9 368.9M141.78 368.9L160.9 368.9M122.65 368.9L122.65 375.1M151.34 368.9L151.34 375.1M122.65 375.1L151.34 375.1M74.84 381.8L74.84 392.4M136.99 375.1L136.99 392.4M74.84 392.4L136.99 392.4" fill="none" stroke="#111" stroke-width="1.25"/>
<text x="46.8" y="218" font-size="7.65" fill="#151515">Progression of B-cell differentiation</text>
<rect x="36.2" y="222.1" width="131" height="1.3" fill="#333"/>
<path d="M166.4 219.6L176.2 222.75L166.4 225.6L168 222.75Z" fill="#111"/>
<rect x="36.4" y="246.2" width="32.6" height="1.5" fill="#444"/>
<text x="52.8" y="233" font-size="7.4" fill="#151515" text-anchor="middle">Early-</text>
<text x="52.8" y="241.7" font-size="7.4" fill="#151515" text-anchor="middle">GCB</text>
<rect x="73.1" y="246.2" width="34.8" height="1.5" fill="#444"/>
<text x="90.4" y="233" font-size="7.4" fill="#151515" text-anchor="middle">Late-</text>
<text x="90.4" y="241.7" font-size="7.4" fill="#151515" text-anchor="middle">GCB</text>
<rect x="111.2" y="246.2" width="22.5" height="1.5" fill="#444"/>
<text x="124.4" y="233" font-size="7.4" fill="#151515" text-anchor="middle">Early-</text>
<text x="124.4" y="241.7" font-size="7.4" fill="#151515" text-anchor="middle">ABC</text>
<rect x="136.9" y="246.2" width="34" height="1.5" fill="#444"/>
<text x="154.7" y="233" font-size="7.4" fill="#151515" text-anchor="middle">Late-</text>
<text x="154.7" y="241.7" font-size="7.4" fill="#151515" text-anchor="middle">ABC</text>
<text x="39.77" y="256.4" font-size="7.4" fill="#151515" text-anchor="middle">8h</text>
<text x="52.52" y="256.4" font-size="7.4" fill="#151515" text-anchor="middle">1d</text>
<text x="65.28" y="256.4" font-size="7.4" fill="#151515" text-anchor="middle">2d</text>
<text x="78.03" y="256.4" font-size="7.4" fill="#151515" text-anchor="middle">3d</text>
<text x="90.78" y="256.4" font-size="7.4" fill="#151515" text-anchor="middle">4d</text>
<text x="103.53" y="256.4" font-size="7.4" fill="#151515" text-anchor="middle">1w</text>
<text x="116.28" y="256.4" font-size="7.4" fill="#151515" text-anchor="middle">2w</text>
<text x="129.03" y="256.4" font-size="7.4" fill="#151515" text-anchor="middle">3w</text>
<text x="141.78" y="256.4" font-size="7.4" fill="#151515" text-anchor="middle">4w</text>
<text x="154.53" y="256.4" font-size="7.4" fill="#151515" text-anchor="middle">5w</text>
<text x="167.28" y="256.4" font-size="7.4" fill="#151515" text-anchor="middle">6w</text>
<text x="7.6" y="223.1" font-size="14" font-weight="bold" fill="#000">C</text>
<linearGradient id="cb" x1="0" x2="1" y1="0" y2="0"><stop offset="0" stop-color="#84e646"/><stop offset="0.25" stop-color="#4c8e2a"/><stop offset="0.52" stop-color="#000"/><stop offset="0.78" stop-color="#800000"/><stop offset="1" stop-color="#e40000"/></linearGradient>
<rect x="144" y="380" width="46" height="7.3" fill="url(#cb)" stroke="#ccc" stroke-width="0.4"/>
<text x="146.4" y="394.8" font-size="7.7" fill="#151515" text-anchor="middle">-3</text>
<text x="167.2" y="394.8" font-size="7.7" fill="#151515" text-anchor="middle">0</text>
<text x="187.5" y="394.8" font-size="7.7" fill="#151515" text-anchor="middle">+3</text>
<text x="203.3" y="18.2" font-size="13.5" font-weight="bold" fill="#000">B</text>
<text x="247" y="44.4" font-size="7.45" fill="#151515" text-anchor="middle">purified CD27-</text>
<text x="247" y="52.9" font-size="7.45" fill="#151515" text-anchor="middle">CD19+ naive B</text>
<text x="247" y="61.9" font-size="7.45" fill="#151515" text-anchor="middle">cells from EBV-ve</text>
<text x="247" y="70" font-size="7.45" fill="#151515" text-anchor="middle">subject</text>
<text x="246.8" y="126.5" font-size="7.45" fill="#151515" text-anchor="middle">concentrated EBV-</text>
<text x="246.8" y="135" font-size="7.45" fill="#151515" text-anchor="middle">WIL strain</text>
<text x="341" y="137.4" font-size="7.6" fill="#151515" text-anchor="middle">spinoculation</text>
<text x="453.2" y="79.6" font-size="7.6" fill="#151515" text-anchor="middle">cells incubated,</text>
<text x="453.2" y="88.7" font-size="7.6" fill="#151515" text-anchor="middle">RNA extracted at 11</text>
<text x="453.2" y="97.5" font-size="7.6" fill="#151515" text-anchor="middle">sequential defined time-</text>
<text x="453.2" y="106.2" font-size="7.6" fill="#151515" text-anchor="middle">points over 6 weeks</text>
<text x="225.3" y="102" font-size="7" fill="#333" text-anchor="middle">+</text>
<circle cx="246.7" cy="99" r="14.0" fill="none" stroke="#eca646" stroke-width="2.3"/>
<circle cx="246.7" cy="99" r="14.1" fill="none" stroke="#fffaf0" stroke-width="1.2" stroke-dasharray="0.9 0.8"/>
<circle cx="246.7" cy="99" r="12.2" fill="#fff" stroke="#356656" stroke-width="0.75"/>
<polygon points="246.7,90 238.73,94.6 238.73,103.8 246.7,108.4 254.67,103.8 254.67,94.6" fill="#e7a23a" stroke="#d9922c" stroke-width="0.5"/>
<polygon points="242.6,95.5 251.1,95.5 246.7,107.2" fill="#eaa944" stroke="#cf8a2a" stroke-width="0.45"/>
<path d="M246.7 90L242.6 95.5M246.7 90L251.1 95.5M238.73 94.6L242.6 95.5M254.67 94.6L251.1 95.5M238.73 103.8L242.6 95.5M254.67 103.8L251.1 95.5M238.73 103.8L246.7 107.2M254.67 103.8L246.7 107.2" stroke="#cf8a2a" stroke-width="0.45" fill="none"/>
<polygon points="287.3,95 306.5,95 306.5,91 314,98.8 306.5,106.7 306.5,102.7 287.3,102.7" fill="#a3002a" stroke="#3a1050" stroke-width="0.5"/>
<polygon points="360.4,95 379.6,95 379.6,91 387.1,98.8 379.6,106.7 379.6,102.7 360.4,102.7" fill="#a3002a" stroke="#3a1050" stroke-width="0.5"/>
<path d="M412.2 52.9V63" stroke="#f0c27a" stroke-width="1.1"/>
<path d="M410.1 61L412.2 67.3L414.3 61Z" fill="#f0c27a"/>
<path d="M420.48 52.9V63" stroke="#f0c27a" stroke-width="1.1"/>
<path d="M418.38 61L420.48 67.3L422.58 61Z" fill="#f0c27a"/>
<path d="M428.76 52.9V63" stroke="#f0c27a" stroke-width="1.1"/>
<path d="M426.66 61L428.76 67.3L430.86 61Z" fill="#f0c27a"/>
<path d="M437.04 52.9V63" stroke="#f0c27a" stroke-width="1.1"/>
<path d="M434.94 61L437.04 67.3L439.14 61Z" fill="#f0c27a"/>
<path d="M445.32 52.9V63" stroke="#f0c27a" stroke-width="1.1"/>
<path d="M443.22 61L445.32 67.3L447.42 61Z" fill="#f0c27a"/>
<path d="M453.6 52.9V63" stroke="#f0c27a" stroke-width="1.1"/>
<path d="M451.5 61L453.6 67.3L455.7 61Z" fill="#f0c27a"/>
<path d="M461.88 52.9V63" stroke="#f0c27a" stroke-width="1.1"/>
<path d="M459.78 61L461.88 67.3L463.98 61Z" fill="#f0c27a"/>
<path d="M470.16 52.9V63" stroke="#f0c27a" stroke-width="1.1"/>
<path d="M468.06 61L470.16 67.3L472.26 61Z" fill="#f0c27a"/>
<path d="M478.44 52.9V63" stroke="#f0c27a" stroke-width="1.1"/>
<path d="M476.34 61L478.44 67.3L480.54 61Z" fill="#f0c27a"/>
<path d="M486.72 52.9V63" stroke="#f0c27a" stroke-width="1.1"/>
<path d="M484.62 61L486.72 67.3L488.82 61Z" fill="#f0c27a"/>
<path d="M495 52.9V63" stroke="#f0c27a" stroke-width="1.1"/>
<path d="M492.9 61L495 67.3L497.1 61Z" fill="#f0c27a"/>
<path d="M335.4 90L346.7 90L346.7 112.4L341.1 126.6L335.4 112.4Z" fill="#f9e2c6" stroke="#e9a444" stroke-width="0.9" stroke-linejoin="round"/>
<path d="M335.9 107.9L346.2 107.9L346.2 112.4L341.1 125.6L335.9 112.4Z" fill="#5fa0de"/>
<path d="M333.7 88.6 C334 87.3 336 86.9 341 86.9 C346 86.9 348.7 87.3 348.9 88.4 C348.7 89.7 347 90.4 341 90.5 C336 90.4 334 89.8 333.7 88.6 Z" fill="#efb866" stroke="#e6a040" stroke-width="0.6"/>
<ellipse cx="331.8" cy="89.3" rx="2.6" ry="1.2" fill="#fff" stroke="#e6a040" stroke-width="0.8"/>
<path d="M341.8 53.3 C337 53.4 331 54 330.5 55.6 L330.4 55.4 330.47 55.63 330.64 55.85 330.92 56.07 331.29 56.29 331.75 56.5 332.3 56.7 332.93 56.9 333.64 57.08 334.41 57.25 335.24 57.4 336.13 57.54 337.06 57.67 338.02 57.78 339 57.87 339.99 57.94 340.99 58 341.98 58.04 342.95 58.07 343.9 58.08 344.81 58.07 345.67 58.04 346.48 58.01 347.22 57.95 347.9 57.89 348.5 57.81 349.02 57.73 349.46 57.63 349.8 57.53 350.05 57.42 350.2 57.31 350.25 57.19 350.21 57.08 350.07 56.97 349.84 56.86 349.52 56.75 349.1 56.65 348.61 56.56 348.03 56.48 347.38 56.41 346.67 56.35 345.9 56.3 345.08 56.27 344.21 56.26 343.32 56.26 342.4 56.27 341.47 56.31 340.53 56.36 339.6 56.42 338.68 56.51 337.78 56.61 336.92 56.73 336.1 56.86 335.33 57.01 334.61 57.17 333.96 57.34 333.38 57.53 332.87 57.73 332.45 57.93 332.11 58.15 331.86 58.37 331.69 58.59 331.62 58.82 331.64 59.04 331.75 59.27 331.95 59.5 332.24 59.71 332.61 59.93 333.06 60.13 333.58 60.33 334.18 60.52 334.84 60.69 335.55 60.86 336.31 61 337.12 61.14 337.95 61.25 338.81 61.36 339.69 61.44 340.57 61.51 341.45 61.56 342.31 61.59 343.16 61.61 343.98 61.61 344.76 61.59 345.5 61.56 346.18 61.51 346.81 61.45 347.37 61.38 347.87 61.3 348.29 61.21 348.63 61.11 348.88 61.01 349.06 60.9 349.15 60.78 349.15 60.67 349.07 60.55 348.91 60.44 348.66 60.33 348.33 60.23 347.93 60.14 347.46 60.05 346.92 59.97 346.32 59.91 345.66 59.86 344.96 59.82 344.22 59.79 343.45 59.79 342.65 59.79 341.84 59.82 341.02 59.86 340.2 59.92 339.39 59.99 338.59 60.09 337.82 60.2 337.09 60.32 336.39 60.46 335.74 60.62 335.14 60.79 334.61 60.97 334.13 61.16 333.73 61.36 333.39 61.57 333.14 61.79 332.96 62.01 332.86 62.24 332.84 62.46 332.9 62.69 333.03 62.92 333.25 63.14 333.54 63.35 333.9 63.56 334.33 63.77 334.82 63.96 335.36 64.14 335.96 64.31 336.61 64.46 337.29 64.6 338 64.73 338.74 64.84 339.5 64.93 340.26 65.01 341.03 65.07 341.79 65.11 342.53 65.13 343.25 65.14 343.95 65.13 344.6 65.11 345.22 65.07 345.79 65.02 346.3 64.95 346.76 64.87 347.15 64.79 347.48 64.69 347.73 64.59 347.92 64.48 348.03 64.37 348.07 64.26 348.03 64.14 347.92 64.03 347.74 63.92 347.49 63.81 347.17 63.72 346.79 63.62 346.36 63.54 345.86 63.47 345.32 63.41 344.74 63.37 344.11 63.34 343.46 63.32 342.79 63.32 342.09 63.34 341.39 63.37 340.68 63.42 339.98 63.49 339.29 63.57 338.62 63.67 337.98 63.79 337.36 63.92 336.79 64.07 336.26 64.23 335.77 64.41 335.34 64.59 334.97 64.79 334.65 65 334.4 65.21 334.22 65.43 334.1 65.65 334.06 65.88 334.07 66.11 334.16 66.33 334.32 66.56 334.53 66.78 334.81 66.99 335.15 67.2 335.54 67.39 335.99 67.58 336.48 67.76 337.01 67.92 337.58 68.07 338.17 68.2 338.79 68.32 339.43 68.42 340.07 68.5 340.72 68.57 341.37 68.62 342.01 68.65 342.63 68.67 343.23 68.67 343.8 68.65 344.34 68.62 344.84 68.57 345.29 68.52 345.7 68.45 346.06 68.36 346.36 68.27 346.6 68.17 346.78 68.07 346.91 67.96 346.97 67.85 346.97 67.73 346.9 67.62 346.78 67.51 346.59 67.4 346.35 67.3 346.06 67.2 345.71 67.11 345.32 67.04 344.88 66.97 344.4 66.92 343.9 66.88 343.36 66.86 342.8 66.85 342.23 66.86 341.64 66.88 341.06 66.92 340.47 66.98 339.89 67.06 339.32 67.15 338.77 67.26 338.25 67.38 337.75 67.52 337.29 67.68 336.87 67.85 336.49 68.03 336.16 68.22 335.88 68.42 335.65 68.63 335.47 68.85 335.35 69.07 335.28 69.3 335.28 69.53 335.32 69.75 335.43 69.98 335.58 70.2 335.79 70.42 336.05 70.63 336.36 70.83 336.71 71.02 337.09 71.2 337.52 71.37 337.97 71.53 338.45 71.67 338.95 71.79 339.47 71.9 340 71.99 340.53 72.07 341.06 72.13 341.59 72.17 342.11 72.19 342.61 72.2 343.09 72.19 343.54 72.17 343.96 72.13 344.35 72.08 344.7 72.01 345.01 71.94 345.28 71.85 345.5 71.75 345.67 71.65 345.79 71.54 345.86 71.43 345.88 71.32 345.85 71.2 345.77 71.09 345.64 70.98 345.47 70.88 345.25 70.78 344.98 70.69 344.68 70.6 344.34 70.53 343.97 70.48 343.57 70.43 343.15 70.4 342.71 70.38 342.25 70.38 341.78 70.4 341.31 70.43 340.84 70.48 340.37 70.55 339.91 70.63 339.46 70.73 339.03 70.85 338.63 70.98 338.25 71.13 337.9 71.29 337.58 71.47 337.3 71.66 337.06 71.85 336.86 72.06 336.7 72.27 336.59 72.49 336.51 72.72 336.49 72.94 336.51 73.17 336.57 73.4 336.68 73.62 336.83 73.84 337.02 74.05 337.24 74.26 337.51 74.46 337.8 74.64 338.12 74.82 338.47 74.98 338.84 75.13 339.23 75.26 339.63 75.38 340.04 75.48 340.46 75.56 340.88 75.63 341.29 75.68 341.7 75.71 342.09 75.73 342.47 75.73 342.83 75.71 343.17 75.68 343.49 75.64 343.77 75.58 344.02 75.51 344.24 75.43 344.43 75.33 344.58 75.24 344.68 75.13 344.76 75.02 344.79 74.91 344.78 74.79 344.73 74.68 344.65 74.57 344.53 74.46 344.37 74.36 344.18 74.26 343.96 74.18 343.72 74.1 343.44 74.03 343.15 73.98 342.83 73.94 342.5 73.92 342.16 73.91 341.81 73.92 341.45 73.94 341.09 73.98 340.74 74.04 340.39 74.12 340.05 74.21 339.72 74.32 339.41 74.45 339.12 74.59 338.85 74.74 338.6 74.91 338.38 75.09 338.19 75.28 338.03 75.49 337.9 75.7 337.8 75.91 337.74 76.13 337.71 76.36 337.71 76.59 337.75 76.81 337.82 77.04 337.92 77.26 338.04 77.48 338.2 77.69 338.39 77.89 338.59 78.08 338.82 78.26 339.07 78.43 339.34 78.59 339.61 78.73 339.9 78.85 340.2 78.96 340.5 79.06 340.8 79.13 341.1 79.19 341.4 79.23 341.69 79.26 341.96 79.26 342.23 79.26 342.47 79.23 342.7 79.19 342.91 79.14 343.1 79.08 343.27 79" fill="none" stroke="#1a1a1a" stroke-width="1.0"/>
<ellipse cx="340.3" cy="78.3" rx="2.6" ry="1.3" fill="#555"/>
<path d="M324.9 33 C325.5 36.5 332 39.6 350.5 40.8 L350.5 37.2 L356.8 43.9 L350.5 50.3 L350.5 47.2 C333 46.2 325.2 42.5 324.9 38 Z" fill="#e2e2e2" stroke="#c42a4c" stroke-width="0.9" stroke-linejoin="round"/>
<path d="M356.5 24.7 L356.5 31.4 C343 31.6 330.5 33 327.6 35.6 C325.6 35 324.9 34 324.9 32.8 C325.6 28.2 340 25 356.5 24.7 Z" fill="#808080" stroke="#c42a4c" stroke-width="0.9" stroke-linejoin="round"/>
<text x="221.2" y="222.8" font-size="14" font-weight="bold" fill="#000">D</text>
<rect x="252.3" y="230" width="1.5" height="106.3" fill="#111"/>
<rect x="252.3" y="334.8" width="259.5" height="1.4" fill="#111"/>
<rect x="249.2" y="248" width="3.5" height="1" fill="#111"/>
<text x="245.8" y="251.1" font-size="7.3" fill="#151515" text-anchor="end">1.0</text>
<rect x="249.2" y="291.5" width="3.5" height="1" fill="#111"/>
<text x="245.8" y="294.6" font-size="7.3" fill="#151515" text-anchor="end">0.5</text>
<rect x="249.2" y="335" width="3.5" height="1" fill="#111"/>
<text x="245.8" y="338.1" font-size="7.3" fill="#151515" text-anchor="end">0.0</text>
<rect x="262.7" y="335.5" width="1" height="3.3" fill="#111"/>
<text x="263.2" y="349.3" font-size="7.3" fill="#151515" text-anchor="middle">0</text>
<rect x="284.3" y="335.5" width="1" height="3.3" fill="#111"/>
<text x="284.8" y="349.3" font-size="7.3" fill="#151515" text-anchor="middle">8</text>
<rect x="305.9" y="335.5" width="1" height="3.3" fill="#111"/>
<text x="306.4" y="349.3" font-size="7.3" fill="#151515" text-anchor="middle">1d</text>
<rect x="327.5" y="335.5" width="1" height="3.3" fill="#111"/>
<text x="328" y="349.3" font-size="7.3" fill="#151515" text-anchor="middle">2d</text>
<rect x="349.1" y="335.5" width="1" height="3.3" fill="#111"/>
<text x="349.6" y="349.3" font-size="7.3" fill="#151515" text-anchor="middle">3d</text>
<rect x="370.7" y="335.5" width="1" height="3.3" fill="#111"/>
<text x="371.2" y="349.3" font-size="7.3" fill="#151515" text-anchor="middle">4d</text>
<rect x="392.3" y="335.5" width="1" height="3.3" fill="#111"/>
<text x="392.8" y="349.3" font-size="7.3" fill="#151515" text-anchor="middle">1w</text>
<rect x="413.9" y="335.5" width="1" height="3.3" fill="#111"/>
<text x="414.4" y="349.3" font-size="7.3" fill="#151515" text-anchor="middle">2w</text>
<rect x="435.5" y="335.5" width="1" height="3.3" fill="#111"/>
<text x="436" y="349.3" font-size="7.3" fill="#151515" text-anchor="middle">3w</text>
<rect x="457.1" y="335.5" width="1" height="3.3" fill="#111"/>
<text x="457.6" y="349.3" font-size="7.3" fill="#151515" text-anchor="middle">4w</text>
<rect x="478.7" y="335.5" width="1" height="3.3" fill="#111"/>
<text x="479.2" y="349.3" font-size="7.3" fill="#151515" text-anchor="middle">5w</text>
<rect x="500.3" y="335.5" width="1" height="3.3" fill="#111"/>
<text x="500.8" y="349.3" font-size="7.3" fill="#151515" text-anchor="middle">6w</text>
<path d="M349.6 254.59V287.65 M347 254.59H352.2 M347 287.65H352.2" stroke="#111" stroke-width="1.2" fill="none"/>
<path d="M371.2 238.93V284.17 M368.6 238.93H373.8 M368.6 284.17H373.8" stroke="#111" stroke-width="1.2" fill="none"/>
<path d="M414.4 295.05V319.84 M411.8 295.05H417 M411.8 319.84H417" stroke="#111" stroke-width="1.2" fill="none"/>
<path d="M436 285.04V311.14 M433.4 285.04H438.6 M433.4 311.14H438.6" stroke="#111" stroke-width="1.2" fill="none"/>
<path d="M457.6 272.86V310.7 M455 272.86H460.2 M455 310.7H460.2" stroke="#111" stroke-width="1.2" fill="none"/>
<path d="M479.2 286.35V302 M476.6 286.35H481.8 M476.6 302H481.8" stroke="#111" stroke-width="1.2" fill="none"/>
<path d="M500.8 291.56V296.52 M498.2 291.56H503.4 M498.2 296.52H503.4" stroke="#111" stroke-width="1.2" fill="none"/>
<polyline points="263.2,335.5 284.8,335.5 306.4,335.5 328,318.8 349.6,271.21 371.2,261.12 392.8,276.34 414.4,307.66 436,298.09 457.6,292 479.2,294.78 500.8,294.26" fill="none" stroke="#a8102c" stroke-width="1.7" stroke-linejoin="round"/>
<circle cx="263.2" cy="335.5" r="2.3" fill="#a8102c"/>
<circle cx="284.8" cy="335.5" r="2.3" fill="#a8102c"/>
<circle cx="306.4" cy="335.5" r="2.3" fill="#a8102c"/>
<circle cx="328" cy="318.8" r="2.3" fill="#a8102c"/>
<circle cx="349.6" cy="271.21" r="2.3" fill="#a8102c"/>
<circle cx="371.2" cy="261.12" r="2.3" fill="#a8102c"/>
<circle cx="392.8" cy="276.34" r="2.3" fill="#a8102c"/>
<circle cx="414.4" cy="307.66" r="2.3" fill="#a8102c"/>
<circle cx="436" cy="298.09" r="2.3" fill="#a8102c"/>
<circle cx="457.6" cy="292" r="2.3" fill="#a8102c"/>
<circle cx="479.2" cy="294.78" r="2.3" fill="#a8102c"/>
<circle cx="500.8" cy="294.26" r="2.3" fill="#a8102c"/>
<text transform="translate(229.6,291.6) rotate(-90) scale(0.76,1)" x="0" y="0" font-size="10.2" font-weight="bold" fill="#111" style="stroke:#111;stroke-width:0.35px">Ki-67</text>
<rect x="0" y="0" width="1.2" height="403" fill="#000"/>
<rect x="0" y="0" width="520" height="1.2" fill="#000"/>
<rect x="518.5" y="0" width="1.5" height="403" fill="#000"/>
<rect x="0" y="401.4" width="520" height="1.6" fill="#000"/>
</svg>
</body></html>
